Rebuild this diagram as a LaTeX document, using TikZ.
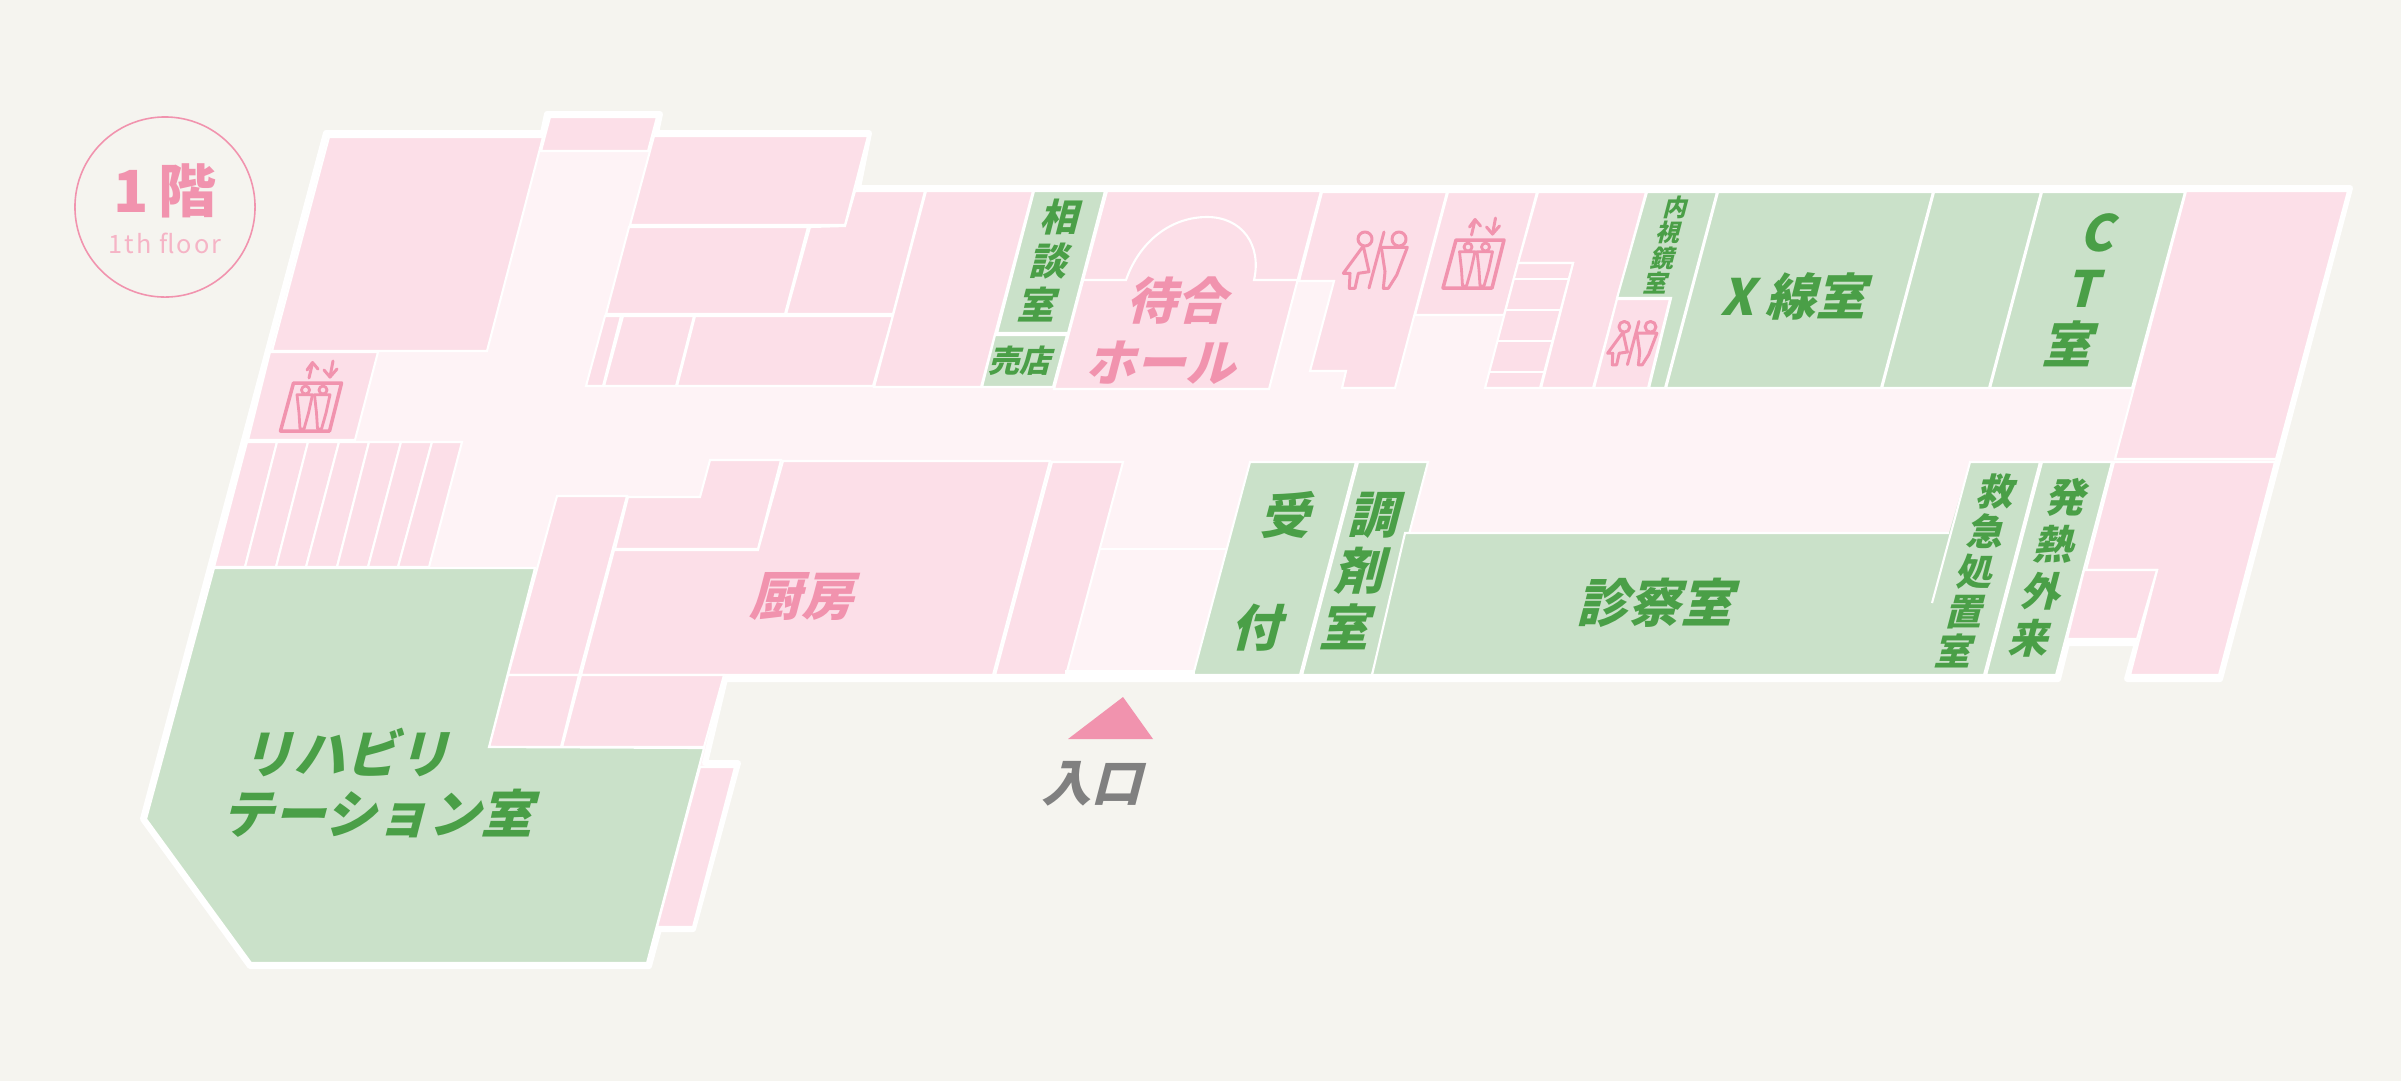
\documentclass[tikz,border=0pt]{standalone}
\usepackage{fontspec}
\setmainfont{Noto Sans CJK JP}
\definecolor{bgcol}{HTML}{F5F4EF}
\definecolor{roompink}{HTML}{FCDFE8}
\definecolor{hallpink}{HTML}{FEF3F6}
\definecolor{roomgreen}{HTML}{CAE1C9}
\definecolor{textgreen}{HTML}{4A9F47}
\definecolor{textpink}{HTML}{F193AE}
\definecolor{textgray}{HTML}{808080}
% sizes are given in picture pixels: 1px = 0.2845pt
\newcommand{\pxfont}[2]{\fontsize{\fpeval{#1*0.2845}}{\fpeval{#2*0.2845}}\selectfont\bfseries}
\tikzset{
	pinkroom/.style={fill=roompink,draw=white,line width=0.6pt,line join=miter},
	greenroom/.style={fill=roomgreen,draw=white,line width=0.6pt},
	label/.style={inner sep=0pt,align=center,xslant=0.26,transform shape},
	greenlabel/.style={label,text=textgreen},
	pinklabel/.style={label,text=textpink},
	iconline/.style={draw=textpink,line width=0.85pt,line join=round,line cap=round},
}
% lift sign: frame, two people, arrows
\newcommand{\liftmark}[2]{
	\begin{scope}[shift={(#1,#2)}]
		\draw[iconline,line width=1pt] (-17.5,-24) -- (30.5,-24) -- (18.5,24) -- (-30.5,24) -- cycle;
		\foreach \dx in {0,17.5}{
			\draw[iconline,line width=0.8pt,shift={(\dx,0)}] (-5.5,-17) circle (0.04cm);
			\draw[iconline,line width=0.8pt,shift={(\dx,0)}] (-14,-12.3) -- (1.5,-12.3) -- (-2.5,6) -- (-7,22) -- (-11,22) -- (-12,6) -- cycle;
		}
		\draw[iconline] (-2,-29) -- (1.5,-44);
		\draw[iconline] (-4,-37) -- (1.5,-44.5) -- (7,-38);
		\draw[iconline] (22,-46) -- (19,-30);
		\draw[iconline] (13,-37) -- (19,-30) -- (26,-38);
	\end{scope}
}
% toilet sign: woman, divider, man
\newcommand{\toiletmark}[3]{
	\begin{scope}[shift={(#1,#2)},x=#3*0.01cm,y=-#3*0.01cm]
		\draw[iconline] (-17,-21) circle (#3*0.07cm);
		\draw[iconline] (-18.7,-14) -- (-38.7,13.3) -- (-32,13.3) -- (-32.7,28.3) -- (-27,28.3) -- (-23.7,13.3) -- (-13,11.7) -- cycle;
		\draw[iconline] (17,-21) circle (#3*0.07cm);
		\draw[iconline] (-0.7,-12.7) -- (25.3,-12.7) -- (14.7,15) -- (6.3,28.3) -- (1.3,28.3) -- (3,11.7) -- cycle;
		\draw[iconline] (2,-28) -- (-13,28);
	\end{scope}
}
\begin{document}
\begin{tikzpicture}[x=0.01cm,y=-0.01cm]
	\useasboundingbox (0,0) rectangle (2401,1081);
	\fill[bgcol] (0,0) rectangle (2401,1081);

	% Building outline with the corridor colour
	\draw[fill=hallpink,draw=white,line width=1.7pt,line join=round]
		(326,133) -- (543,133) -- (547,114) -- (660,114) -- (656,133) -- (869,133) -- (858,188)
		-- (2350,188) -- (2220,679) -- (2127,679) -- (2137,643) -- (2067,643) -- (2058,679)
		-- (725,679) -- (705,763) -- (738,763) -- (693,929) -- (659,929) -- (649,966)
		-- (250,966) -- (143,819) -- cycle;

	% Pink rooms
	\foreach \shape in {
		{(329,137) -- (543,137) -- (487,351) -- (272,351)},
		{(550,117) -- (657,117) -- (648,151) -- (541,151)},
		{(270,352) -- (378,352) -- (355,440) -- (248,440)},
		{(654,136) -- (868,136) -- (845,225) -- (630,225)},
		{(629,227) -- (808,227) -- (785,314) -- (606,314)},
		{(810,227) -- (845,226) -- (855,191) -- (925,191) -- (893,314) -- (786,314)},
		{(605,316) -- (621,316) -- (603,386) -- (586,386)},
		{(623,316) -- (694,316) -- (676,386) -- (604,386)},
		{(695,316) -- (893,316) -- (873,386) -- (677,386)},
		{(926,191) -- (1033,191) -- (981,387) -- (874,387)},
		{(1107,191) -- (1321,191) -- (1269,389) -- (1054,389)},
		{(1322,192) -- (1447,192) -- (1395,388) -- (1342,388) -- (1346,371) -- (1310,371) -- (1334,281) -- (1299,281)},
		{(1448,192) -- (1537,192) -- (1504,315) -- (1415,315)},
		{(1538,192) -- (1646,192) -- (1593,388) -- (1541,388) -- (1573,263) -- (1518,263)},
		{(1518,263) -- (1573,263) -- (1540,388) -- (1485,388)},
		{(1617,299) -- (1670,299) -- (1648,388) -- (1594,388)},
		{(2186,191) -- (2348,191) -- (2276,459) -- (2115,459)},
		{(2114,462) -- (2275,462) -- (2219,675) -- (2130,675) -- (2157,570) -- (2086,570)},
		{(2084,570) -- (2157,570) -- (2137,639) -- (2067,639)},
		{(557,496) -- (627,496) -- (579,675) -- (508,675)},
		{(628,497) -- (700,497) -- (710,460) -- (781,460) -- (758,549) -- (615,549)},
		{(783,461) -- (1050,461) -- (993,675) -- (581,675) -- (614,550) -- (758,550)},
		{(1052,462) -- (1123,462) -- (1066,675) -- (995,675)},
		{(508,675) -- (579,675) -- (561,747) -- (489,747)},
		{(581,675) -- (724,675) -- (704,747) -- (562,747)},
		{(700,767) -- (735,767) -- (693,927) -- (657,927)}}
		\path[pinkroom] \shape -- cycle;

	% Row of small rooms on the left
	\path[pinkroom] (247,442) -- (277,442) -- (245,567) -- (214,567) -- cycle;
	\foreach \topa/\topb/\bota/\botb in {277/308/245/276, 308/339/276/306, 339/369/306/337, 369/401/337/368, 401/432/368/398, 432/462/398/429}
		\path[pinkroom] (\topa,442) -- (\topb,442) -- (\botb,567) -- (\bota,567) -- cycle;

	% Green rooms
	\foreach \shape in {
		{(214,568) -- (535,568) -- (489,747) -- (704,748) -- (647,963) -- (251,963) -- (146,819)},
		{(1034,191) -- (1105,191) -- (1068,333) -- (997,333)},
		{(995,335) -- (1067,335) -- (1053,387) -- (982,387)},
		{(1647,192) -- (1717,192) -- (1665,388) -- (1649,388) -- (1671,298) -- (1617,298)},
		{(1718,192) -- (1933,192) -- (1881,388) -- (1666,388)},
		{(1934,192) -- (2041,192) -- (1989,388) -- (1882,388)},
		{(2042,192) -- (2185,192) -- (2132,388) -- (1990,388)},
		{(2042,462) -- (2112,462) -- (2056,675) -- (1986,675)},
		{(1250,462) -- (1356,462) -- (1300,675) -- (1193,675)},
		{(1358,462) -- (1428,462) -- (1372,675) -- (1302,675)}}
		\path[greenroom] \shape -- cycle;
	% Consulting room runs into the emergency room without a wall at the foot
	\fill[roomgreen] (1405,533) -- (1949,533) -- (1970,462) -- (2040,462) -- (1984,675) -- (1372,675) -- cycle;
	\draw[white,line width=0.6pt] (1372,675) -- (1405,533) -- (1949,533);
	\draw[white,line width=0.6pt] (1932,603) -- (1970,462) -- (2040,462) -- (1984,675) -- (1372,675);

	% Lines without a room of their own
	\draw[white,line width=0.6pt] (1084,280) -- (1126,280) .. controls (1140,240) and (1172,217) .. (1207,217)
		.. controls (1242,217) and (1262,245) .. (1254,280) -- (1298,280);
	\foreach \y/\xa/\xb in {279/1514/1569, 310/1506/1561, 341/1498/1553, 372/1489/1544}
		\draw[white,line width=0.6pt] (\xa,\y) -- (\xb,\y);
	\draw[white,line width=0.6pt] (1100,549) -- (1226,549);
	\fill[white] (1065,670) rectangle (1195,680);

	% Floor badge
	\node[circle,draw=textpink,line width=0.45pt,minimum size=1.8cm,inner sep=0pt] (badge) at (165,207) {};
	\node[inner sep=0pt,text=textpink,font=\pxfont{58}{60}] (floorname) at (165,191) {1\,階};
	\node[inner sep=0pt,text=textpink!70,font=\fontsize{7.2}{8}\selectfont] (floorname2) at (165,243) {\addfontfeatures{LetterSpace=8}1th floor};

	% Room labels
	\node[greenlabel,font=\pxfont{38}{44}] (soudan) at (1051,261) {相\\談\\室};
	\node[greenlabel,font=\pxfont{31}{34}] (baiten) at (1023,361) {売店};
	\node[pinklabel,font=\pxfont{50}{62}] (machiai) at (1174,331) {待合\\ホール};
	\node[greenlabel,font=\pxfont{24}{25.3}] (naishi) at (1667,245) {内\\視\\鏡\\室};
	\node[greenlabel,font=\pxfont{50}{56}] (xray) at (1798,296) {X 線室};
	\node[greenlabel,font=\pxfont{50}{56}] (ct) at (2086,290) {C\\T\\室};
	\node[greenlabel,font=\pxfont{37}{40}] (kyukyu) at (1977,571) {救\\急\\処\\置\\室};
	\node[greenlabel,font=\pxfont{40}{47}] (hatsunetsu) at (2050,568) {発\\熱\\外\\来};
	\node[greenlabel,font=\pxfont{52}{56}] (shinsatsu) at (1660,603) {診察室};
	\node[greenlabel,font=\pxfont{50}{112}] (uketsuke) at (1275,571) {受\\付};
	\node[greenlabel,font=\pxfont{50}{56}] (chozai) at (1363,571) {調\\剤\\室};
	\node[pinklabel,font=\pxfont{52}{56}] (chubo) at (806,596) {厨房};
	\node[greenlabel,align=left,font=\pxfont{52}{60}] (riha) at (390,783) {\hspace*{1.4pt}リハビリ\\テーション室};
	\node[label,text=textgray,font=\pxfont{50}{56}] (iriguchi) at (1096,784) {入口};

	% Entrance mark
	\fill[textpink] (1123,697) -- (1153,739) -- (1068,739) -- cycle;

	% Signs
	\liftmark{311}{407}
	\liftmark{1473.5}{264}
	\toiletmark{1382}{260}{1}
	\toiletmark{1637.4}{343}{0.77}
\end{tikzpicture}
\end{document}
